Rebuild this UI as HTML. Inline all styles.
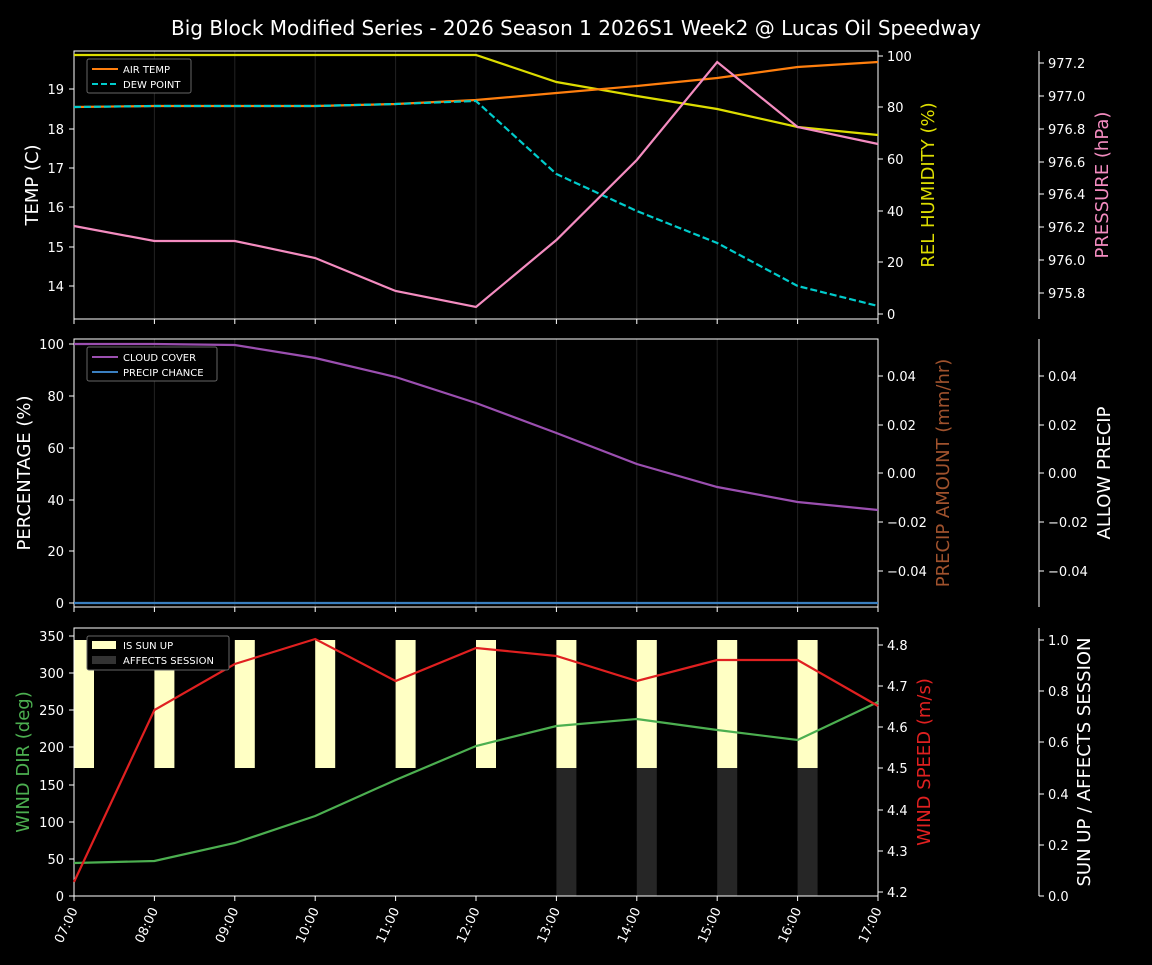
<!DOCTYPE html>
<html><head><meta charset="utf-8"><style>body{margin:0;background:#000}svg text{font-family:"DejaVu Sans","Liberation Sans",sans-serif;fill:#fff}</style></head><body>
<svg width="1152" height="960" xmlns="http://www.w3.org/2000/svg">
<rect width="1152" height="960" fill="#000"/>
<text x="576" y="35" font-size="20" text-anchor="middle">Big Block Modified Series - 2026 Season 1 2026S1 Week2 @ Lucas Oil Speedway</text>
<g stroke="#222" stroke-width="1">
<path d="M154.4 51V319M234.8 51V319M315.2 51V319M395.6 51V319M476 51V319M556.4 51V319M636.8 51V319M717.2 51V319M797.6 51V319"/>
<path d="M154.4 339V607M234.8 339V607M315.2 339V607M395.6 339V607M476 339V607M556.4 339V607M636.8 339V607M717.2 339V607M797.6 339V607"/>
</g>
<!-- panel 3 bars -->
<g fill="#ffffc4">
<rect x="74" y="640" width="20" height="128"/><rect x="154.4" y="640" width="20" height="128"/><rect x="234.8" y="640" width="20" height="128"/><rect x="315.2" y="640" width="20" height="128"/><rect x="395.6" y="640" width="20" height="128"/><rect x="476" y="640" width="20" height="128"/><rect x="556.4" y="640" width="20" height="128"/><rect x="636.8" y="640" width="20" height="128"/><rect x="717.2" y="640" width="20" height="128"/><rect x="797.6" y="640" width="20" height="128"/>
</g>
<g fill="#262626"><rect x="556.4" y="768" width="20" height="128"/><rect x="636.8" y="768" width="20" height="128"/><rect x="717.2" y="768" width="20" height="128"/><rect x="797.6" y="768" width="20" height="128"/></g>
<!-- frames -->
<g fill="none" stroke="#fff" stroke-width="1">
<rect x="74" y="51" width="804" height="268"/><rect x="74" y="339" width="804" height="268"/><rect x="74" y="628" width="804" height="268"/>
<path d="M1039 51V319M1039 339V607M1039 628V896"/>
</g>
<!-- panel1 series -->
<g fill="none" stroke-width="2.2">
<polyline stroke="#dddd00" points="74,55 154.4,55 234.8,55 315.2,55 395.6,55 476,55 556.4,82 636.8,96 717.2,109 797.6,127 878,135"/>
<polyline stroke="#ff7f0e" points="74,107 154.4,106 234.8,106 315.2,106 395.6,104 476,100 556.4,93 636.8,86 717.2,78 797.6,67 878,62"/>
<polyline stroke="#00cccc" stroke-dasharray="7,3" points="74,107 154.4,106 234.8,106 315.2,106 395.6,104 476,101 556.4,174 636.8,211 717.2,243 797.6,286 878,306"/>
<polyline stroke="#f48cc0" points="74,226 154.4,241 234.8,241 315.2,258 395.6,291 476,307 556.4,240 636.8,160 717.2,62 797.6,127 878,144"/>
<polyline stroke="#9b4fb0" points="74,344 154.4,344 234.8,345 315.2,358 395.6,377 476,403 556.4,433 636.8,464 717.2,487 797.6,502 878,510"/>
<line x1="74" y1="603" x2="878" y2="603" stroke="#3a7fc0"/>
<polyline stroke="#4caf50" points="74,863 154.4,861 234.8,843 315.2,816 395.6,780 476,746 556.4,726 636.8,719 717.2,730 797.6,740 878,702"/>
<polyline stroke="#e02020" points="74,882 154.4,710 234.8,664 315.2,639 395.6,681 476,648 556.4,656 636.8,681 717.2,660 797.6,660 878,706"/>
</g>
<!-- legends -->
<g font-size="10">
<rect x="87" y="59" width="104" height="34" fill="#000" stroke="#666" rx="2"/>
<line x1="92" y1="69" x2="118" y2="69" stroke="#ff7f0e" stroke-width="2"/><text x="123" y="73">AIR TEMP</text>
<line x1="92" y1="84" x2="118" y2="84" stroke="#00cccc" stroke-width="2" stroke-dasharray="6,3"/><text x="123" y="88">DEW POINT</text>
<rect x="87" y="347" width="130" height="34" fill="#000" stroke="#666" rx="2"/>
<line x1="92" y1="357" x2="118" y2="357" stroke="#9b4fb0" stroke-width="2"/><text x="123" y="361">CLOUD COVER</text>
<line x1="92" y1="372" x2="118" y2="372" stroke="#3a7fc0" stroke-width="2"/><text x="123" y="376">PRECIP CHANCE</text>
<rect x="87" y="636" width="142" height="34" fill="#000" stroke="#666" rx="2"/>
<rect x="92" y="641" width="24" height="8" fill="#ffffc4"/><text x="123" y="649">IS SUN UP</text>
<rect x="92" y="656" width="24" height="8" fill="#333"/><text x="123" y="664">AFFECTS SESSION</text>
</g>
<!-- ticks left -->
<g font-size="13" text-anchor="end">
<text x="64" y="94">19</text><text x="64" y="134">18</text><text x="64" y="173">17</text><text x="64" y="212">16</text><text x="64" y="252">15</text><text x="64" y="291">14</text>
<text x="64" y="349">100</text><text x="64" y="401">80</text><text x="64" y="453">60</text><text x="64" y="505">40</text><text x="64" y="556">20</text><text x="64" y="608">0</text>
<text x="64" y="641">350</text><text x="64" y="678">300</text><text x="64" y="715">250</text><text x="64" y="752">200</text><text x="64" y="790">150</text><text x="64" y="827">100</text><text x="64" y="864">50</text><text x="64" y="901">0</text>
</g>
<g stroke="#fff"><path d="M69 89H74M69 129H74M69 168H74M69 207H74M69 247H74M69 286H74M69 344H74M69 396H74M69 448H74M69 500H74M69 551H74M69 603H74M69 636H74M69 673H74M69 710H74M69 747H74M69 785H74M69 822H74M69 859H74M69 896H74"/>
<path d="M878 56H883M878 107H883M878 159H883M878 211H883M878 262H883M878 314H883M878 376H883M878 425H883M878 473H883M878 522H883M878 571H883M878 645H883M878 686H883M878 727H883M878 768H883M878 810H883M878 851H883M878 892H883"/>
<path d="M1039 63H1044M1039 96H1044M1039 129H1044M1039 162H1044M1039 194H1044M1039 227H1044M1039 260H1044M1039 293H1044M1039 376H1044M1039 425H1044M1039 473H1044M1039 522H1044M1039 571H1044M1039 640H1044M1039 691H1044M1039 742H1044M1039 794H1044M1039 845H1044M1039 896H1044"/>
<path d="M74 896V901M154.4 896V901M234.8 896V901M315.2 896V901M395.6 896V901M476 896V901M556.4 896V901M636.8 896V901M717.2 896V901M797.6 896V901M878 896V901M74 319V324M154.4 319V324M234.8 319V324M315.2 319V324M395.6 319V324M476 319V324M556.4 319V324M636.8 319V324M717.2 319V324M797.6 319V324M878 319V324M74 607V612M154.4 607V612M234.8 607V612M315.2 607V612M395.6 607V612M476 607V612M556.4 607V612M636.8 607V612M717.2 607V612M797.6 607V612M878 607V612"/></g>
<g font-size="13">
<text x="887" y="61">100</text><text x="887" y="112">80</text><text x="887" y="164">60</text><text x="887" y="216">40</text><text x="887" y="267">20</text><text x="887" y="319">0</text>
<text x="887" y="381">0.04</text><text x="887" y="430">0.02</text><text x="887" y="478">0.00</text><text x="887" y="527">−0.02</text><text x="887" y="576">−0.04</text>
<text x="887" y="650">4.8</text><text x="887" y="691">4.7</text><text x="887" y="732">4.6</text><text x="887" y="773">4.5</text><text x="887" y="815">4.4</text><text x="887" y="856">4.3</text><text x="887" y="897">4.2</text>
<text x="1048" y="68">977.2</text><text x="1048" y="101">977.0</text><text x="1048" y="134">976.8</text><text x="1048" y="167">976.6</text><text x="1048" y="199">976.4</text><text x="1048" y="232">976.2</text><text x="1048" y="265">976.0</text><text x="1048" y="298">975.8</text>
<text x="1048" y="381">0.04</text><text x="1048" y="430">0.02</text><text x="1048" y="478">0.00</text><text x="1048" y="527">−0.02</text><text x="1048" y="576">−0.04</text>
<text x="1048" y="645">1.0</text><text x="1048" y="696">0.8</text><text x="1048" y="747">0.6</text><text x="1048" y="799">0.4</text><text x="1048" y="850">0.2</text><text x="1048" y="901">0.0</text>
</g>
<!-- x labels -->
<g font-size="13" text-anchor="end">
<text transform="translate(78,910) rotate(-65)">07:00</text><text transform="translate(158.4,910) rotate(-65)">08:00</text><text transform="translate(238.8,910) rotate(-65)">09:00</text><text transform="translate(319.2,910) rotate(-65)">10:00</text><text transform="translate(399.6,910) rotate(-65)">11:00</text><text transform="translate(480,910) rotate(-65)">12:00</text><text transform="translate(560.4,910) rotate(-65)">13:00</text><text transform="translate(640.8,910) rotate(-65)">14:00</text><text transform="translate(721.2,910) rotate(-65)">15:00</text><text transform="translate(801.6,910) rotate(-65)">16:00</text><text transform="translate(882,910) rotate(-65)">17:00</text>
</g>
<!-- axis titles -->
<g font-size="18" text-anchor="middle">
<text transform="translate(38,185) rotate(-90)">TEMP (C)</text>
<text transform="translate(30,473) rotate(-90)">PERCENTAGE (%)</text>
<text transform="translate(29,762) rotate(-90)" style="fill:#4caf50">WIND DIR (deg)</text>
<text transform="translate(934,185) rotate(-90)" style="fill:#dddd00">REL HUMIDITY (%)</text>
<text transform="translate(949,473) rotate(-90)" style="fill:#a0522d">PRECIP AMOUNT (mm/hr)</text>
<text transform="translate(930,762) rotate(-90)" style="fill:#e02020">WIND SPEED (m/s)</text>
<text transform="translate(1108,185) rotate(-90)" style="fill:#f48cc0">PRESSURE (hPa)</text>
<text transform="translate(1110,473) rotate(-90)">ALLOW PRECIP</text>
<text transform="translate(1090,762) rotate(-90)">SUN UP / AFFECTS SESSION</text>
</g>
</svg>
</body></html>
